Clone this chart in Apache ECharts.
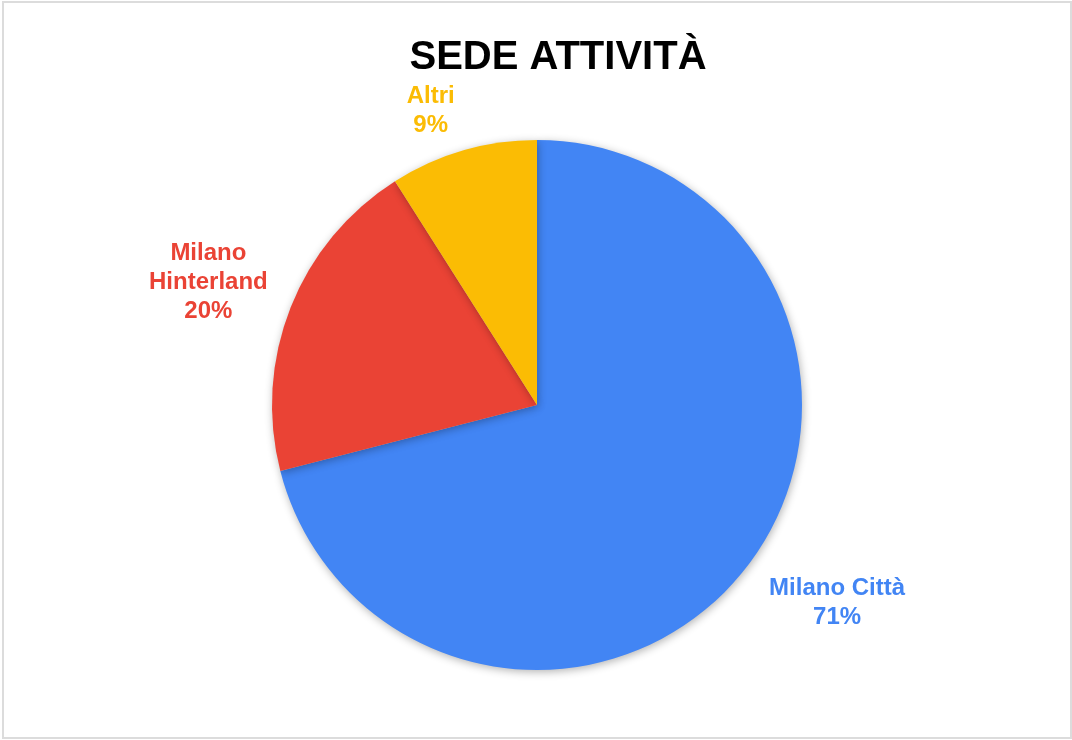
<!DOCTYPE html>
<html>
<head>
<meta charset="utf-8">
<script src="https://cdn.jsdelivr.net/npm/echarts@6/dist/echarts.min.js"></script>
<style>
  html, body { margin: 0; padding: 0; background: #fff; }
  #frame {
    position: absolute; left: 2px; top: 1px;
    width: 1066px; height: 734px;
    border: 2px solid #dcdcdc;
  }
  #chart { position: absolute; left: 0; top: 0; width: 1072px; height: 740px; }
</style>
</head>
<body>
<div id="frame"></div>
<div id="chart"></div>
<script>
  // dati del grafico
  var categorie = ['Milano Città', 'Milano Hinterland', 'Altri'];
  var valori = [71, 20, 9];
  var colori = ['#4285F4', '#EA4335', '#FBBC04'];
  var etichette = ['Milano Città\n71%', 'Milano\nHinterland\n20%', 'Altri\n9%'];

  // piccoli spostamenti delle etichette (px)
  var spostaEtichette = [[-6, 17], [10, -14], [5, -11]];

  var pieData = categorie.map(function (nome, i) {
    return {
      name: nome,
      value: valori[i],
      itemStyle: { color: colori[i] },
      label: { color: colori[i], formatter: etichette[i] }
    };
  });

  var myChart = echarts.init(document.getElementById('chart'));
  myChart.setOption({
    animation: false,
    title: {
      text: 'SEDE ATTIVITÀ',
      left: 553,
      textAlign: 'center',
      top: 33,
      textStyle: {
        fontFamily: 'Liberation Sans, Arial, sans-serif',
        fontSize: 40,
        fontWeight: 'bold',
        color: '#000'
      }
    },
    series: [{
      type: 'pie',
      center: [537, 405],
      radius: [0, 265],
      startAngle: 90,
      clockwise: true,
      data: pieData,
      itemStyle: {
        borderWidth: 0,
        shadowBlur: 8,
        shadowOffsetX: 1,
        shadowOffsetY: 2,
        shadowColor: 'rgba(0,0,0,0.3)'
      },
      label: {
        show: true,
        position: 'outside',
        fontFamily: 'Liberation Sans, Arial, sans-serif',
        fontSize: 24,
        fontWeight: 'bold',
        lineHeight: 29
      },
      labelLine: { show: false, length: 30, length2: 0 },
      labelLayout: function (params) {
        var r = params.labelRect;
        var d = spostaEtichette[params.dataIndex];
        return {
          x: r.x + r.width / 2 + d[0],
          y: r.y + r.height / 2 + d[1],
          align: 'center',
          verticalAlign: 'middle'
        };
      }
    }]
  });
</script>
</body>
</html>
